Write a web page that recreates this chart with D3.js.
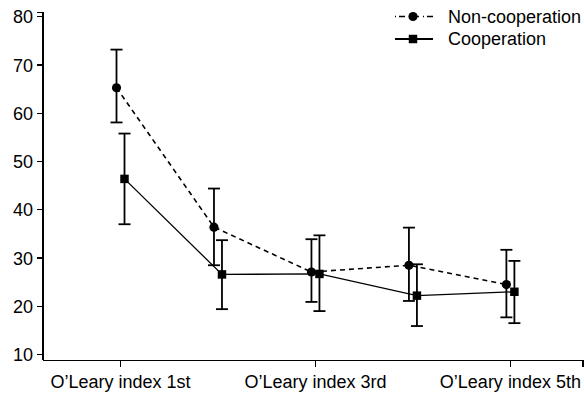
<!DOCTYPE html>
<html lang="en">
<head>
  <meta charset="utf-8">
  <script src="https://d3js.org/d3.v7.min.js"></script>
  <style>
    body { margin: 0; background: #fff; }
    .axis path, .axis line { fill: none; stroke: #000; stroke-width: 1.3; shape-rendering: crispEdges; }
    .axis text { font-family: "Liberation Sans", Arial, sans-serif; font-size: 18px; fill: #000; }
    .legend text { font-family: "Liberation Sans", Arial, sans-serif; font-size: 18px; fill: #000; }
  </style>
</head>
<body>
<svg id="chart" width="584" height="396"></svg>
<script>
  // Data
  const categories = ["O’Leary index 1st", "O’Leary index 2nd", "O’Leary index 3rd", "O’Leary index 4th", "O’Leary index 5th"];
  const shownTicks = [0, 2, 4];
  const yTicks = [10, 20, 30, 40, 50, 60, 70, 80];

  const nonCoopMean = [65.2, 36.3, 27.0, 28.4, 24.4];
  const nonCoopHigh = [73.1, 44.3, 33.8, 36.2, 31.6];
  const nonCoopLow  = [58.0, 28.4, 20.8, 21.0, 17.6];

  const coopMean = [46.3, 26.5, 26.6, 22.1, 22.9];
  const coopHigh = [55.7, 33.6, 34.6, 28.6, 29.3];
  const coopLow  = [36.9, 19.3, 18.9, 15.8, 16.4];

  const series = [
    { name: "Non-cooperation", mean: nonCoopMean, high: nonCoopHigh, low: nonCoopLow, shift: -3.5, dash: "5,4", symbol: "circle" },
    { name: "Cooperation", mean: coopMean, high: coopHigh, low: coopLow, shift: 4.5, dash: null, symbol: "square" }
  ];

  const svg = d3.select("#chart");

  // scales
  const x = d3.scaleLinear().domain([-0.79, 4.75]).range([43, 583]);
  const y = d3.scaleLinear().domain([8.76, 80.75]).range([360, 12.7]);

  // axes
  const [x0, x1] = x.range();
  const [yb, yt] = y.range();

  svg.append("g")
    .attr("class", "axis")
    .attr("transform", `translate(${x0},0)`)
    .call(d3.axisLeft(y).tickValues(yTicks).tickSize(6).tickPadding(4))
    .call(g => g.select(".domain").attr("d", `M-6,${yt}H0V${yb}`))
    .call(g => g.selectAll(".tick text").attr("dy", "0.36em"));

  svg.append("g")
    .attr("class", "axis")
    .attr("transform", `translate(0,${yb + 0.5})`)
    .call(d3.axisBottom(x).tickValues(shownTicks).tickFormat(i => categories[i]).tickSize(6).tickPadding(9))
    .call(g => g.select(".domain").attr("d", `M${x0},0H${x1}V6`));

  const px = (s, i) => x(i) + s.shift;
  const symbolFor = s => d3.symbol()
    .type(s.symbol === "circle" ? d3.symbolCircle : d3.symbolSquare)
    .size(s.symbol === "circle" ? 66 : 72);

  series.forEach(s => {
    const g = svg.append("g");
    const idx = d3.range(categories.length);

    // error bars
    g.selectAll(".err")
      .data(idx)
      .join("line")
      .attr("x1", i => px(s, i)).attr("x2", i => px(s, i))
      .attr("y1", i => y(s.high[i])).attr("y2", i => y(s.low[i]))
      .attr("stroke", "#000").attr("stroke-width", 1.8);

    g.selectAll(".capHi")
      .data(idx)
      .join("line")
      .attr("x1", i => px(s, i) - 6).attr("x2", i => px(s, i) + 6)
      .attr("y1", i => y(s.high[i])).attr("y2", i => y(s.high[i]))
      .attr("stroke", "#000").attr("stroke-width", 1.8);

    g.selectAll(".capLo")
      .data(idx)
      .join("line")
      .attr("x1", i => px(s, i) - 6).attr("x2", i => px(s, i) + 6)
      .attr("y1", i => y(s.low[i])).attr("y2", i => y(s.low[i]))
      .attr("stroke", "#000").attr("stroke-width", 1.8);

    // connecting line
    const line = d3.line().x(i => px(s, i)).y(i => y(s.mean[i]));
    g.append("path")
      .datum(idx)
      .attr("d", line)
      .attr("fill", "none")
      .attr("stroke", "#000")
      .attr("stroke-width", s.dash ? 1.6 : 1.3)
      .attr("stroke-dasharray", s.dash);

    // markers
    g.selectAll(".mark")
      .data(idx)
      .join("path")
      .attr("transform", i => `translate(${px(s, i)},${y(s.mean[i])})`)
      .attr("d", symbolFor(s))
      .attr("fill", "#000");
  });

  // legend
  const legend = svg.append("g").attr("class", "legend");
  series.forEach((s, k) => {
    const ly = 16.5 + k * 22.5;
    legend.append("line")
      .attr("x1", 395).attr("x2", 433)
      .attr("y1", ly).attr("y2", ly)
      .attr("stroke", "#000")
      .attr("stroke-width", s.dash ? 1.6 : 1.8)
      .attr("stroke-dasharray", s.dash ? "1,3,6,4" : null);
    legend.append("path")
      .attr("transform", `translate(413,${ly})`)
      .attr("d", symbolFor(s))
      .attr("fill", "#000");
    legend.append("text")
      .attr("x", 448).attr("y", ly)
      .attr("dy", "0.36em")
      .text(s.name);
  });
</script>
</body>
</html>
